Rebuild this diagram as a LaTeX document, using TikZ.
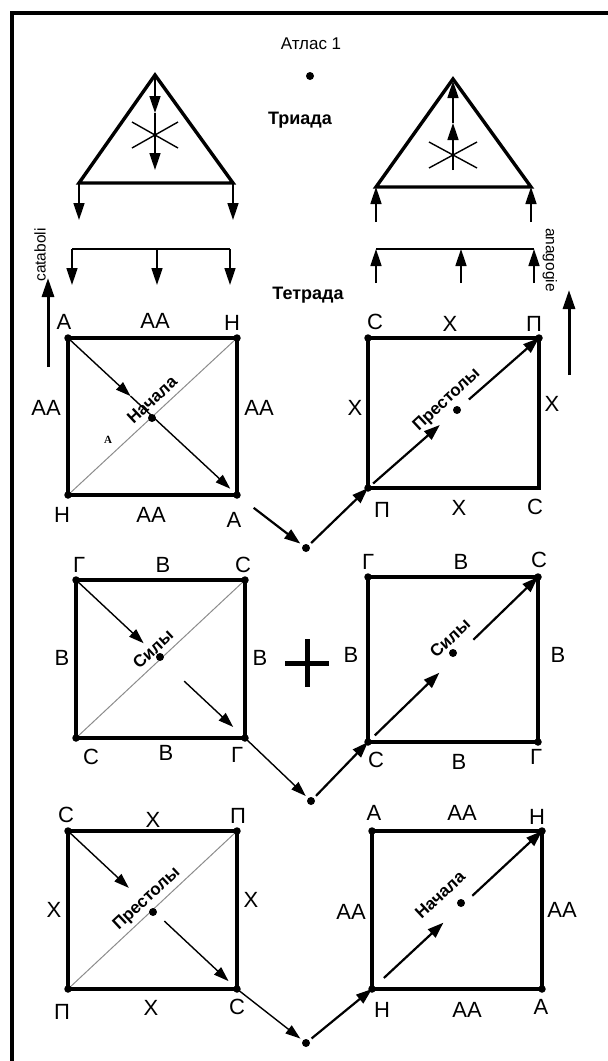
\documentclass[tikz,border=0pt]{standalone}
\usepackage{fontspec}
\setmainfont{Liberation Sans}
\newfontfamily\serifface{Liberation Serif}
\usetikzlibrary{arrows.meta,calc}

\begin{document}
\begin{tikzpicture}[
  x=1pt,y=-1pt,
  font=\fontsize{22}{24}\selectfont,
  frame/.style={line width=3.2pt},
  side/.style={line width=3.2pt},
  tri/.style={line width=3.4pt, line join=miter},
  rail/.style={line width=2pt},
  ghost/.style={draw=black!45, line width=1pt},
  flow/.style={-{Triangle[length=15pt,width=10pt]}, line width=1.4pt},
  push/.style={-{Triangle[length=16pt,width=11pt]}, line width=2.2pt},
  stem/.style={-{Triangle[length=17pt,width=11pt]}, line width=1.6pt},
  lift/.style={-{Triangle[length=19pt,width=12pt]}, line width=3pt},
  dot/.style={circle, fill=black, inner sep=0pt, minimum size=8pt},
  pin/.style={circle, fill=black, inner sep=0pt, minimum size=7.5pt},
  title/.style={font=\fontsize{17}{19}\selectfont},
  head/.style={font=\bfseries\fontsize{18}{20}\selectfont},
  rank/.style={font=\bfseries\fontsize{17}{19}\selectfont, rotate=43},
  sidenote/.style={font=\fontsize{15.5}{17}\selectfont},
]

\useasboundingbox (0,0) rectangle (608,1061);
\draw[frame] (12,1063) -- (12,13) -- (610,13);

% heading
\node[title] (atlas) at (311,44) {Атлас 1};
\node[dot] (top) at (310,76) {};
\node[head] (triad) at (300,120) {Триада};
\node[head] (tetrad) at (308,295) {Тетрада};

% left triangle, downwards
\coordinate (lt-a) at (155,75);
\coordinate (lt-l) at (79,183);
\coordinate (lt-r) at (233,183);
\coordinate (lt-m) at (155,113);
\coordinate (lt-s) at (155,170);
\draw[tri] (lt-a) -- (lt-r) -- (lt-l) -- cycle;
\draw[stem] (lt-a) -- (lt-m);
\draw[stem] (lt-m) -- (lt-s);
\draw[line width=1.4pt] (132,122) -- (178,148) (132,148) -- (178,122);
\foreach \c in {lt-l,lt-r}{\draw[stem] (\c) -- ++(0,37);}

\coordinate (lb-l) at (72,249);
\coordinate (lb-m) at (157,249);
\coordinate (lb-r) at (230,249);
\draw[rail] (lb-l) -- (lb-r);
\foreach \c in {lb-l,lb-m,lb-r}{\draw[stem] (\c) -- ++(0,36);}

% right triangle, upwards
\coordinate (rt-a) at (453,79);
\coordinate (rt-l) at (376,187);
\coordinate (rt-r) at (531,187);
\coordinate (rt-m) at (453,123);
\coordinate (rt-s) at (453,170);
\draw[tri] (rt-a) -- (rt-r) -- (rt-l) -- cycle;
\draw[stem] (rt-s) -- (rt-m);
\draw[stem, shorten >=2pt] (rt-m) -- (rt-a);
\draw[line width=1.4pt] (429,142) -- (477,168) (429,168) -- (477,142);
\foreach \c in {rt-l,rt-r}{\draw[stem] ($(\c)+(0,35)$) -- (\c);}

\coordinate (rb-l) at (376,249);
\coordinate (rb-m) at (461,249);
\coordinate (rb-r) at (534,249);
\draw[rail] (rb-l) -- (rb-r);
\foreach \c in {rb-l,rb-m,rb-r}{\draw[stem] ($(\c)+(0,34)$) -- (\c);}

% side arrows
\node[sidenote, rotate=90] (cataboli) at (40,255) {cataboli};
\node[sidenote, rotate=-90] (anagogie) at (550,260) {anagogie};
\coordinate (cat-0) at (48,367);
\coordinate (cat-1) at (48,278);
\coordinate (ana-0) at (569,375);
\coordinate (ana-1) at (569,290);
\draw[lift] (cat-0) -- (cat-1);
\draw[lift] (ana-0) -- (ana-1);

% squares
\foreach \s/\x/\y/\w/\h in {a/68/338/169/157, b/368/338/171/150, c/76/580/169/158,
                            d/368/577/170/165, e/68/831/169/158, f/372/831/170/158}{
  \coordinate (\s-tl) at (\x,\y);
  \coordinate (\s-tr) at (\x+\w,\y);
  \coordinate (\s-bl) at (\x,\y+\h);
  \coordinate (\s-br) at (\x+\w,\y+\h);
  \draw[side] (\s-tl) -- (\s-tr) -- (\s-br) -- (\s-bl) -- cycle;
}
\foreach \s in {a,c,e}{\draw[ghost] (\s-bl) -- (\s-tr);}

% left squares: down the diagonal
\foreach \s/\p/\q/\r in {a/.37/.37/.96, c/.40/.64/.93, e/.36/.57/.95}{
  \draw[flow] (\s-tl) -- ($(\s-tl)!\p!(\s-br)$);
  \draw[flow] ($(\s-tl)!\q!(\s-br)$) -- ($(\s-tl)!\r!(\s-br)$);
}
% right squares: up the diagonal
\foreach \s/\o/\p/\q in {b/.03/.42/.59, d/.04/.42/.62, f/.07/.42/.59}{
  \draw[push] ($(\s-bl)!\o!(\s-tr)$) -- ($(\s-bl)!\p!(\s-tr)$);
  \draw[push] ($(\s-bl)!\q!(\s-tr)$) -- (\s-tr);
}

\foreach \k in {a-tl,a-tr,a-bl,a-br,b-tl,b-tr,b-bl,c-tl,c-tr,c-bl,c-br,
                d-tl,d-tr,d-bl,d-br,e-tl,e-tr,e-bl,e-br,f-tl,f-tr,f-bl,f-br}{
  \node[pin] (\k-pin) at (\k) {};
}
\foreach \s/\px/\py in {a/152/418, b/457/410, c/160/657, d/453/653, e/153/912, f/461/903}{
  \node[dot] (\s-mid) at (\px,\py) {};
}

\node[rank] (a-name) at (152,400) {Начала};
\node[rank] (b-name) at (447,400) {Престолы};
\node[rank] (c-name) at (153,649) {Силы};
\node[rank] (d-name) at (450,638) {Силы};
\node[rank] (e-name) at (147,899) {Престолы};
\node[rank] (f-name) at (440,895) {Начала};
\node[font=\serifface\bfseries\fontsize{11}{12}\selectfont] (a-small) at (108,440) {А};

% corner and side letters
\foreach \t/\x/\y [count=\i] in {
  А/64/322, АА/155/321, Н/232/323, АА/46/408, АА/259/408, Н/62/515, АА/151/515, А/234/520,
  С/375/322, Х/450/324, П/534/324, Х/355/408, Х/552/404, П/382/510, Х/459/508, С/535/507,
  Г/79/565, В/163/565, С/243/565, В/62/658, В/260/658, С/91/757, В/166/753, Г/237/755,
  Г/368/562, В/461/562, С/539/560, В/351/655, В/558/655, С/376/760, В/459/762, Г/536/757,
  С/66/815, Х/153/820, П/238/816, Х/54/910, Х/251/900, П/62/1012, Х/151/1008, С/237/1007,
  А/374/813, АА/462/813, Н/537/817, АА/351/912, АА/562/910, Н/382/1010, АА/467/1010, А/541/1007}{
  \node (lab\i) at (\x,\y) {\t};
}

% plus
\coordinate (plus) at (307,663);
\draw[line width=5pt] ($(plus)+(-22,0)$) -- ++(44,0) ($(plus)+(0,-24)$) -- ++(0,48);

% links between the rows
\node[dot] (m1) at (306,548) {};
\node[dot] (m2) at (311,801) {};
\node[dot] (m3) at (306,1043) {};
\draw[push, shorten <=21pt, shorten >=3pt] (a-br) -- (m1);
\draw[push, shorten <=3pt] (m1) -- (b-bl);
\draw[flow, shorten >=3pt] (c-br) -- (m2);
\draw[push, shorten <=3pt] (m2) -- (d-bl);
\draw[flow, shorten >=3pt] (e-br) -- (m3);
\draw[push, shorten <=3pt] (m3) -- (f-bl);
\end{tikzpicture}
\end{document}
